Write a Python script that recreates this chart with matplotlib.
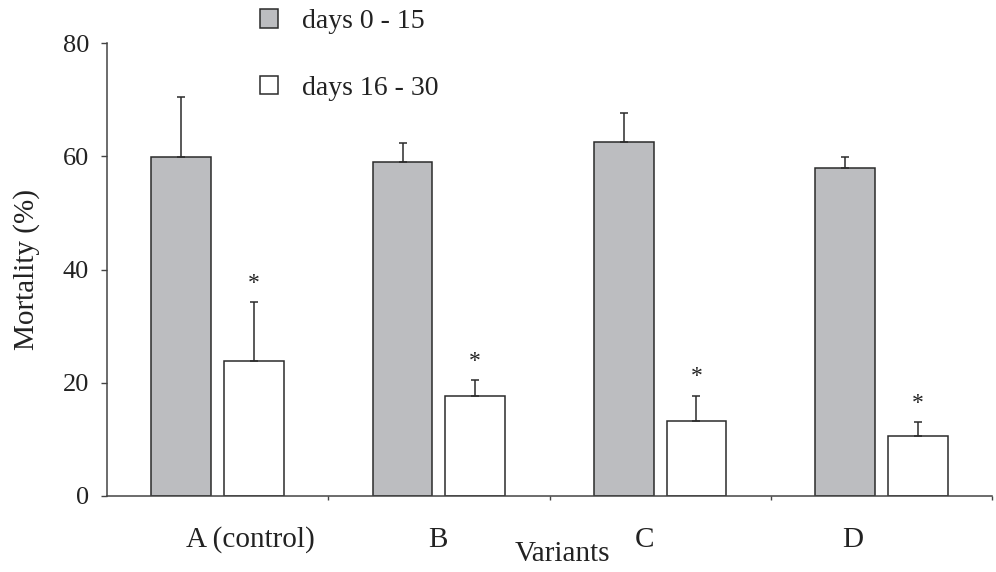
import numpy as np
import matplotlib
matplotlib.use("Agg")
import matplotlib.pyplot as plt
from matplotlib.ticker import FixedLocator


# =====================================
# DATA
# =====================================

variants = ["A (control)", "B", "C", "D"]

early_mean = [59.8, 58.9, 62.6, 58.0]
early_err = [10.7, 3.5, 5.1, 1.8]

late_mean = [23.9, 17.7, 13.2, 10.6]
late_err = [10.3, 2.7, 4.5, 2.4]

series_labels = ["days 0 - 15", "days 16 - 30"]
y_ticks = [0, 20, 40, 60, 80]


# =====================================
# STYLE
# =====================================

plt.rcParams["font.family"] = ["Liberation Serif", "DejaVu Serif"]

EDGE = "#2b2b2b"
GRAY = "#bcbdc0"
TEXT = "#222222"

BAR_W = 0.27
OFFSET = 0.164

# tick labels in the original are not centred on the groups
label_pos = [0.15, 0.995, 1.93, 2.87]


# =====================================
# PLOT
# =====================================

fig = plt.figure(figsize=(9.96, 5.72), dpi=100)
ax = fig.add_axes([107 / 996, 76 / 572, 885 / 996, 453 / 572])

x = np.arange(len(variants))

err_kw = dict(ecolor=EDGE, elinewidth=1.1, capsize=2.6, capthick=1.1)

bars1 = ax.bar(
    x - OFFSET, early_mean, BAR_W,
    color=GRAY, edgecolor=EDGE, linewidth=1.1,
    yerr=[np.zeros(4), early_err], error_kw=err_kw,
    label=series_labels[0], zorder=2
)

bars2 = ax.bar(
    x + OFFSET, late_mean, BAR_W,
    color="white", edgecolor=EDGE, linewidth=1.1,
    yerr=[np.zeros(4), late_err], error_kw=err_kw,
    label=series_labels[1], zorder=2
)

# significance stars
for xi, m, e in zip(x, late_mean, late_err):
    ax.annotate(
        "*", (xi + OFFSET, m + e),
        xytext=(0, 6), textcoords="offset points",
        ha="center", va="bottom", fontsize=17, color=TEXT
    )

ax.set_xlim(-0.5, 3.5)
ax.set_ylim(0, 80)

ax.set_yticks(y_ticks)
ax.tick_params(axis="y", direction="out", length=4, width=1,
               color="#444444", labelsize=19, labelcolor=TEXT, pad=9)

ax.xaxis.set_major_locator(FixedLocator(label_pos))
ax.set_xticklabels(variants)
ax.tick_params(axis="x", which="major", length=0, labelsize=21,
               labelcolor=TEXT, pad=22)
ax.xaxis.set_minor_locator(FixedLocator([0.5, 1.5, 2.5, 3.5]))
ax.tick_params(axis="x", which="minor", direction="out", length=3,
               width=1, color="#444444")

for side in ["top", "right"]:
    ax.spines[side].set_visible(False)
for side in ["left", "bottom"]:
    ax.spines[side].set_color("#444444")
    ax.spines[side].set_linewidth(1.1)

ax.set_ylabel("Mortality (%)", fontsize=21, color=TEXT, labelpad=16)
ax.set_xlabel("Variants", fontsize=21, color=TEXT, labelpad=-4)
ax.xaxis.set_label_coords(0.515, -0.1)

fig.legend(
    handles=[bars1, bars2], labels=series_labels,
    loc="upper left", bbox_to_anchor=(260 / 996, 1 - 9 / 572),
    frameon=False, fontsize=20, borderpad=0, borderaxespad=0,
    handlelength=0.65, handleheight=0.65, handletextpad=0.85,
    labelspacing=1.5, labelcolor=TEXT
)

fig.savefig("out.png", dpi=100)
